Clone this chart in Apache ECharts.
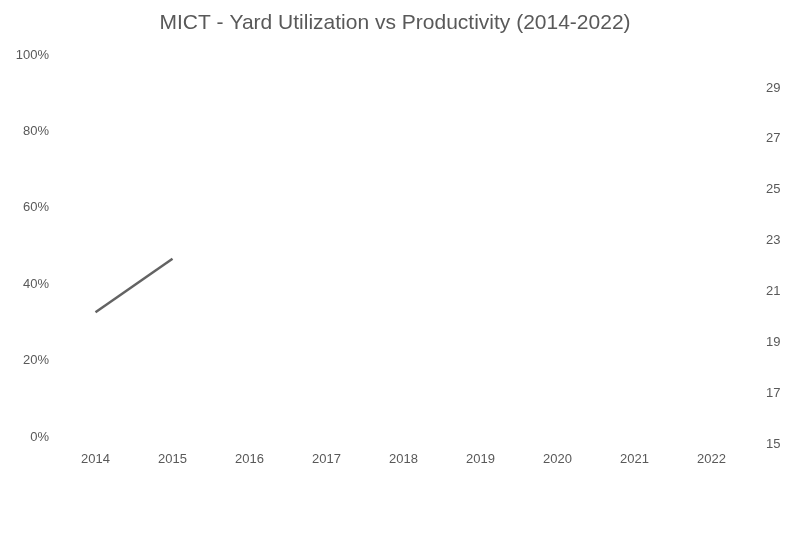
<!DOCTYPE html>
<html>
<head>
<meta charset="utf-8">
<script src="https://cdn.jsdelivr.net/npm/echarts@6/dist/echarts.min.js"></script>
<style>
  html, body { margin: 0; padding: 0; background: #fff; }
  #chart { width: 790px; height: 544px; }
</style>
</head>
<body>
<div id="chart"></div>
<script>
// categories - years on the x axis
const years = ['2014', '2015', '2016', '2017', '2018', '2019', '2020', '2021', '2022'];
// productivity line (right axis), only the first stretch is readable in the picture
const productivity = [19.9, 22.0, null, null, null, null, null, null, null];
// tick labels of both value axes
const leftTicks = [0, 20, 40, 60, 80, 100];
const rightTicks = [15, 17, 19, 21, 23, 25, 27, 29];

const textColor = '#595959';
const font = 'Liberation Sans';

let myChart = echarts.init(document.getElementById('chart'));
let option = {
  animation: false,
  title: {
    text: 'MICT - Yard Utilization vs Productivity (2014-2022)',
    left: 'center',
    top: 8,
    textStyle: { color: textColor, fontSize: 21, fontWeight: 'normal', fontFamily: font }
  },
  grid: { left: 57, right: 40, top: 55, bottom: 107 },
  xAxis: {
    type: 'category',
    data: years,
    axisLine: { show: false },
    axisTick: { show: false },
    axisLabel: { color: textColor, fontSize: 13, fontFamily: font, margin: 16 }
  },
  yAxis: [
    {
      type: 'value',
      min: leftTicks[0],
      max: leftTicks[leftTicks.length - 1],
      interval: 20,
      splitLine: { show: false },
      axisLine: { show: false },
      axisTick: { show: false },
      axisLabel: { color: textColor, fontSize: 13, fontFamily: font, formatter: '{value}%', margin: 8 }
    },
    {
      type: 'value',
      position: 'right',
      min: rightTicks[0],
      max: 30,
      interval: 2,
      splitLine: { show: false },
      axisLine: { show: false },
      axisTick: { show: false },
      axisLabel: {
        color: textColor, fontSize: 13, fontFamily: font, margin: 16,
        verticalAlign: 'top',
        padding: [1, 0, 0, 0],
        formatter: function (v) { return rightTicks.indexOf(v) >= 0 ? String(v) : ''; }
      }
    }
  ],
  series: [
    {
      name: 'Productivity',
      type: 'line',
      yAxisIndex: 1,
      data: productivity,
      symbol: 'none',
      lineStyle: { color: '#636363', width: 2.5 }
    }
  ]
};
myChart.setOption(option);
</script>
</body>
</html>
